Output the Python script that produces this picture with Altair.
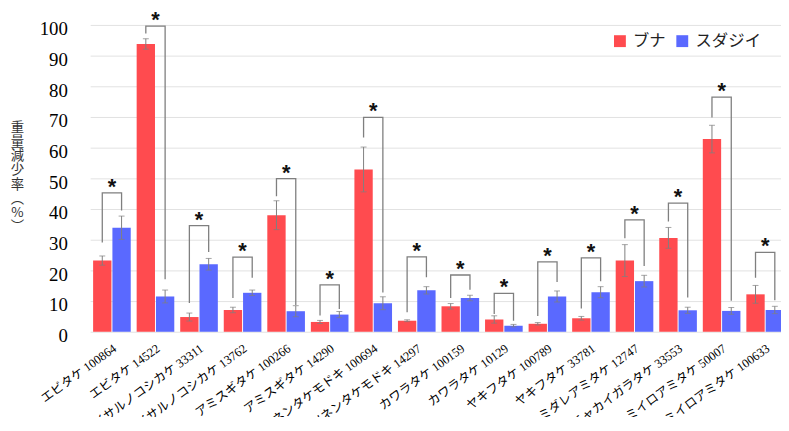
import altair as alt
import pandas as pd

categories = [
    "エビタケ 100864", "エビタケ 14522", "シイサルノコシカケ 33311", "シイサルノコシカケ 13762",
    "アミスギタケ 100266", "アミスギタケ 14290", "オツネンタケモドキ 100694", "オツネンタケモドキ 14297",
    "カワラタケ 100159", "カワラタケ 10129", "ヤキフタケ 100789", "ヤキフタケ 33781",
    "チャミダレアミタケ 12747", "チャカイガラタケ 33553", "ミイロアミタケ 50007", "ミイロアミタケ 100633",
]
series_names = ["ブナ", "スダジイ"]
buna = [23.2, 93.8, 4.8, 7.1, 38.0, 3.2, 52.9, 3.6, 8.3, 4.0, 2.6, 4.4, 23.2, 30.6, 62.8, 12.2]
buna_err = [1.5, 1.7, 1.3, 0.9, 4.7, 0.5, 7.3, 0.3, 0.9, 1.2, 0.4, 0.6, 5.2, 3.4, 4.5, 2.9]
sudajii = [33.9, 11.5, 22.0, 12.7, 6.7, 5.6, 9.3, 13.5, 11.0, 2.0, 11.5, 12.9, 16.5, 7.0, 6.8, 7.1]
sudajii_err = [3.8, 2.1, 1.9, 0.9, 1.8, 1.0, 2.1, 1.2, 0.9, 0.4, 1.8, 1.8, 1.9, 1.0, 1.1, 1.2]
bracket_top = [45.3, 99.6, 34.6, 24.3, 49.9, 15.3, 69.9, 24.4, 18.5, 12.5, 22.8, 24.1, 36.5, 41.9, 76.5, 25.9]
bracket_left = [29.1, 97.2, 9.4, 11.0, 44.2, 5.3, 63.3, 6.4, 11.0, 5.8, 5.1, 7.6, 30.5, 35.9, 69.8, 17.6]
bracket_right = [39.5, 17.1, 26.0, 17.6, 8.7, 7.4, 12.8, 17.8, 13.7, 3.6, 16.2, 16.5, 21.4, 11.2, 10.1, 10.3]
y_ticks = [0, 10, 20, 30, 40, 50, 60, 70, 80, 90, 100]
y_title = ["重", "量", "減", "少", "率", "︵", "%", "︶"]

RED = "#FF4B4F"
BLUE = "#5A69FF"
GRAY = "#7F7F7F"

rows = []
for i, c in enumerate(categories):
    rows.append({"cat": c, "series": "ブナ", "value": buna[i],
                 "lo": buna[i] - buna_err[i], "hi": buna[i] + buna_err[i]})
    rows.append({"cat": c, "series": "スダジイ", "value": sudajii[i],
                 "lo": sudajii[i] - sudajii_err[i], "hi": sudajii[i] + sudajii_err[i]})
bars_df = pd.DataFrame(rows)

brows = []
for i, c in enumerate(categories):
    brows.append({"cat": c, "series": "ブナ", "v": bracket_left[i], "o": 0})
    brows.append({"cat": c, "series": "ブナ", "v": bracket_top[i], "o": 1})
    brows.append({"cat": c, "series": "スダジイ", "v": bracket_top[i], "o": 2})
    brows.append({"cat": c, "series": "スダジイ", "v": bracket_right[i], "o": 3})
br_df = pd.DataFrame(brows)

star_df = pd.DataFrame({"cat": categories, "top": bracket_top})

xscale = alt.Scale(domain=categories, range=[0, 704], paddingInner=0.136, paddingOuter=0.068)
xo = alt.XOffset("series:N", sort=series_names,
                 scale=alt.Scale(domain=series_names, paddingInner=0.05, paddingOuter=0))
yscale = alt.Scale(domain=[0, 100], nice=False)

X_AXIS = dict(labelAngle=-36, labelAlign="right", labelBaseline="middle",
              labelFontSize=12.5, labelFont="Liberation Serif, Noto Sans CJK JP",
              labelColor="#000000", labelPadding=15, labelOffset=3, ticks=False,
              domain=False, grid=False, labelOverlap=False, labelLimit=300)
Y_AXIS = dict(values=y_ticks, labelFont="Liberation Serif, Times New Roman, serif",
              labelFontSize=19, labelFontWeight="normal", labelColor="#000000",
              labelPadding=23, labelOffset=4, ticks=False, domain=False, grid=True,
              gridColor="#E2E2E2", gridWidth=1, labelOverlap=False,
              titleAngle=0, titleFont="Noto Sans CJK JP", titleFontSize=13.5,
              titleFontWeight="normal", titleColor="#333333",
              titleLineHeight=14.2, titleBaseline="top", titleAlign="center",
              titleX=-74, titleY=97)


def xenc():
    return alt.X("cat:N", sort=categories, scale=xscale, title=None, axis=alt.Axis(**X_AXIS))


def yenc(field):
    return alt.Y(field, scale=yscale, title=y_title, axis=alt.Axis(**Y_AXIS))


bars = alt.Chart(bars_df).mark_bar().encode(
    x=xenc(),
    xOffset=xo,
    y=yenc("value:Q"),
    color=alt.Color("series:N", sort=series_names,
                    scale=alt.Scale(domain=series_names, range=[RED, BLUE]),
                    legend=alt.Legend(title=None, orient="none", legendX=527, legendY=8,
                                      direction="horizontal", symbolType="square",
                                      symbolSize=144, symbolStrokeWidth=0,
                                      labelFont="Noto Sans CJK JP", labelFontSize=16.5,
                                      labelColor="#222222", labelOffset=5,
                                      columnPadding=8, padding=0)),
)

err = alt.Chart(bars_df).mark_rule(color=GRAY, strokeWidth=1).encode(
    x=xenc(), xOffset=xo, y=yenc("lo:Q"), y2="hi:Q",
)
cap_lo = alt.Chart(bars_df).mark_tick(color=GRAY, thickness=1).encode(
    x=xenc(), xOffset=xo, y=yenc("lo:Q"), size=alt.value(6),
)
cap_hi = alt.Chart(bars_df).mark_tick(color=GRAY, thickness=1).encode(
    x=xenc(), xOffset=xo, y=yenc("hi:Q"), size=alt.value(6),
)
brackets = alt.Chart(br_df).mark_line(color=GRAY, strokeWidth=1.3, interpolate="linear").encode(
    x=xenc(), xOffset=xo, y=yenc("v:Q"), detail="cat:N", order="o:Q",
)
stars = alt.Chart(star_df).mark_text(text="*", font="Liberation Sans", fontWeight="bold",
                                     fontSize=22, baseline="alphabetic", align="center",
                                     color="#111111", dy=1).encode(
    x=xenc(), y=yenc("top:Q"),
)

chart = alt.layer(bars, err, cap_lo, cap_hi, brackets, stars).properties(
    width=698, height=310,
    autosize=alt.AutoSizeParams(type="none"),
    padding={"left": 83, "top": 15, "right": 0, "bottom": 84},
    background="white",
).configure_view(stroke=None)

chart.save("out.html", embed_options={"renderer": "svg", "actions": False})
